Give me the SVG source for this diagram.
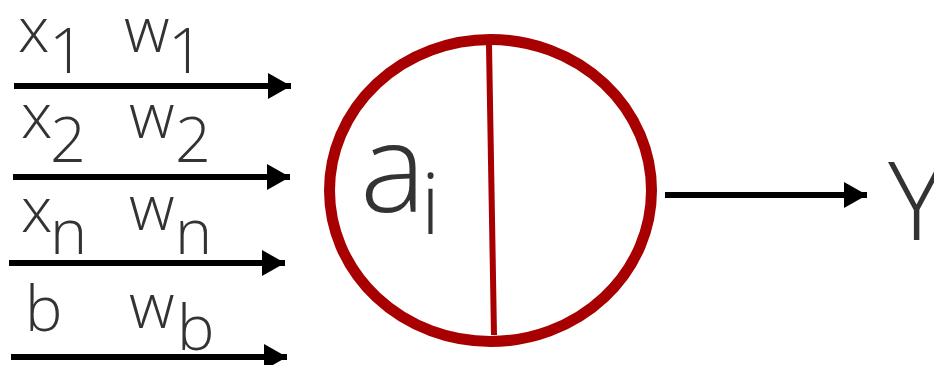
<svg xmlns="http://www.w3.org/2000/svg" width="934" height="365" viewBox="0 0 934 365">
<style>
.t{font-family:"Open Sans","Liberation Sans",sans-serif;font-weight:300;fill:#333;}
.s63{font-size:63px;}
.c{stroke:#000;stroke-width:6;fill:none;}
</style>
<defs>
<marker id="ah" markerUnits="userSpaceOnUse" markerWidth="24" markerHeight="28" refX="23" refY="13" orient="auto">
<path d="M0,0 L23,13 L0,26 Z" fill="#000"/>
</marker>
</defs>
<rect width="934" height="365" fill="#fff"/>
<g id="connectors">
<line class="c" x1="14" y1="86" x2="291" y2="86" marker-end="url(#ah)"/>
<line class="c" x1="13" y1="177" x2="290" y2="177" marker-end="url(#ah)"/>
<line class="c" x1="9" y1="263" x2="285" y2="263" marker-end="url(#ah)"/>
<line class="c" x1="11" y1="357" x2="287" y2="357" marker-end="url(#ah)"/>
<line class="c" x1="665" y1="195" x2="867" y2="195" marker-end="url(#ah)"/>
</g>
<g id="labels">
<text class="t s63"><tspan x="18" y="52">x</tspan><tspan x="49" y="73">1</tspan><tspan x="124" y="52">w</tspan><tspan x="168" y="73">1</tspan></text>
<text class="t s63"><tspan x="21" y="138">x</tspan><tspan x="50" y="162">2</tspan><tspan x="129" y="138">w</tspan><tspan x="175" y="162">2</tspan></text>
<text class="t s63"><tspan x="21" y="232">x</tspan><tspan x="50" y="254">n</tspan><tspan x="129" y="230">w</tspan><tspan x="175" y="254">n</tspan></text>
<text class="t s63"><tspan x="25" y="331">b</tspan><tspan x="129" y="328">w</tspan><tspan x="177" y="350">b</tspan></text>
</g>
<g id="neuron">
<ellipse cx="490.5" cy="190.5" rx="161" ry="151" fill="none" stroke="#a80000" stroke-width="11"/>
<line x1="489" y1="45" x2="494" y2="335" stroke="#a80000" stroke-width="6"/>
<text class="t"><tspan x="360" y="212" font-size="124">a</tspan><tspan x="421" y="234" font-size="84">i</tspan></text>
</g>
<g id="output">
<text class="t" x="888" y="240" font-size="108">Y</text>
</g>
</svg>
